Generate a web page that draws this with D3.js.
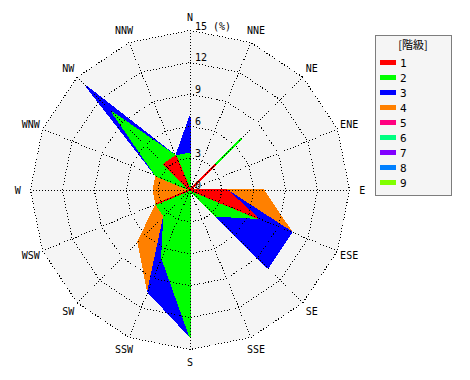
<!DOCTYPE html>
<html>
<head>
<meta charset="utf-8">
<script src="https://cdn.jsdelivr.net/npm/d3@7"></script>
<style>
  body { margin: 0; background: #fff; }
  svg text { font-family: "DejaVu Sans Mono", monospace; font-size: 10px; fill: #000; }
</style>
</head>
<body>
<svg id="rose" width="470" height="380"></svg>
<script>
// wind directions, clockwise from north
var dirs = ['N', 'NNE', 'NE', 'ENE', 'E', 'ESE', 'SE', 'SSE', 'S', 'SSW', 'SW', 'WSW', 'W', 'WNW', 'NW', 'NNW']
var classes = ['1', '2', '3', '4', '5', '6', '7', '8', '9']
var colors = ['#ff0000', '#00ff00', '#0000ff', '#ff8000', '#ff0080', '#00ff80', '#8000ff', '#0080ff', '#80ff00']
var ringTicks = [0, 3, 6, 9, 12, 15]

// frequency (%) of each class by direction
var c1 = [0, 0, 3.45, 0, 3.45, 6.9, 0, 0, 0, 0, 0, 3.45, 0, 0, 3.45, 3.45]
var c2 = [3.45, 0, 3.45, 0, 0, 0, 3.45, 0, 13.79, 6.9, 3.45, 0, 0, 3.45, 6.9, 0]
var c3 = [3.45, 0, 0, 0, 0, 3.45, 6.9, 0, 0, 3.45, 0, 0, 0, 0, 3.45, 0]
var c4 = [0, 0, 0, 0, 3.45, 0, 0, 0, 0, 0, 3.45, 0, 3.45, 0, 0, 0]
var c5 = [0, 0, 0, 0, 0, 0, 0, 0, 0, 0, 0, 0, 0, 0, 0, 0]
var c6 = [0, 0, 0, 0, 0, 0, 0, 0, 0, 0, 0, 0, 0, 0, 0, 0]
var c7 = [0, 0, 0, 0, 0, 0, 0, 0, 0, 0, 0, 0, 0, 0, 0, 0]
var c8 = [0, 0, 0, 0, 0, 0, 0, 0, 0, 0, 0, 0, 0, 0, 0, 0]
var c9 = [0, 0, 0, 0, 0, 0, 0, 0, 0, 0, 0, 0, 0, 0, 0, 0]
var series = [c1, c2, c3, c4, c5, c6, c7, c8, c9]

var cx = 190
var cy = 190
var R = 159.5

var svg = d3.select('#rose')

var r = d3.scaleLinear().domain([0, 15]).range([0, R])
var ang = d3.scaleLinear().domain([0, dirs.length]).range([0, 2 * Math.PI])

function pt (i, v) {
  var a = ang(i)
  return [cx + r(v) * Math.sin(a), cy - r(v) * Math.cos(a)]
}

var ring = d3.line().curve(d3.curveLinearClosed)

var rows = dirs.map(function (d, i) {
  var row = { dir: d }
  classes.forEach(function (k, j) { row[k] = series[j][i] })
  return row
})
var layers = d3.stack().keys(classes)(rows)

// background
svg.append('path')
    .attr('d', ring(dirs.map((d, i) => pt(i, 15))))
    .attr('fill', '#f5f5f5')

// stacked class polygons, largest first
svg.selectAll('.layer')
    .data(layers.slice().reverse())
  .enter().append('path')
    .attr('class', 'layer')
    .attr('d', l => ring(l.map((d, i) => pt(i, d[1]))))
    .attr('fill', l => colors[l.index])
    .attr('stroke', l => colors[l.index])
    .attr('stroke-width', 1.6)
    .attr('stroke-linejoin', 'bevel')
    .attr('shape-rendering', 'crispEdges')

// grid
var grid = svg.append('g')
    .attr('fill', 'none')
    .attr('stroke', '#000')
    .attr('stroke-dasharray', '1,2')
    .attr('shape-rendering', 'crispEdges')

grid.selectAll('.ring')
    .data(ringTicks.slice(1))
  .enter().append('path')
    .attr('d', t => ring(dirs.map((d, i) => pt(i, t))))

grid.selectAll('.spoke')
    .data(dirs)
  .enter().append('line')
    .attr('x1', cx)
    .attr('y1', cy)
    .attr('x2', (d, i) => pt(i, 15)[0])
    .attr('y2', (d, i) => pt(i, 15)[1])

// ring labels along north spoke
svg.selectAll('.tick')
    .data(ringTicks)
  .enter().append('text')
    .attr('x', cx + 5)
    .attr('y', t => cy - r(t) - 1)
    .text(t => t)
svg.append('text')
    .attr('x', cx + 23)
    .attr('y', cy - r(15) - 1)
    .text('(%)')

// direction labels
svg.selectAll('.dir')
    .data(dirs)
  .enter().append('text')
    .attr('x', (d, i) => pt(i, 16.2)[0])
    .attr('y', (d, i) => pt(i, 16.2)[1])
    .attr('text-anchor', 'middle')
    .attr('dominant-baseline', 'central')
    .text(d => d)

// legend
var lg = svg.append('g').attr('transform', 'translate(375,35)')
lg.append('rect')
    .attr('x', 0.5).attr('y', 0.5)
    .attr('width', 76).attr('height', 160)
    .attr('fill', '#f5f5f5')
    .attr('stroke', '#000')
    .attr('stroke-dasharray', '1,1')
lg.append('text')
    .attr('x', 38).attr('y', 14)
    .attr('text-anchor', 'middle')
    .style('font-family', '"Noto Sans CJK JP"')
    .style('font-size', '11px')
    .text('[階級]')
var item = lg.selectAll('.item')
    .data(classes)
  .enter().append('g')
    .attr('transform', (d, i) => 'translate(5,' + (25 + i * 15) + ')')
item.append('rect')
    .attr('width', 16).attr('height', 5)
    .attr('fill', (d, i) => colors[i])
item.append('text')
    .attr('x', 20).attr('y', 3)
    .attr('dominant-baseline', 'central')
    .style('font-size', '11px')
    .text(d => d)
</script>
</body>
</html>
